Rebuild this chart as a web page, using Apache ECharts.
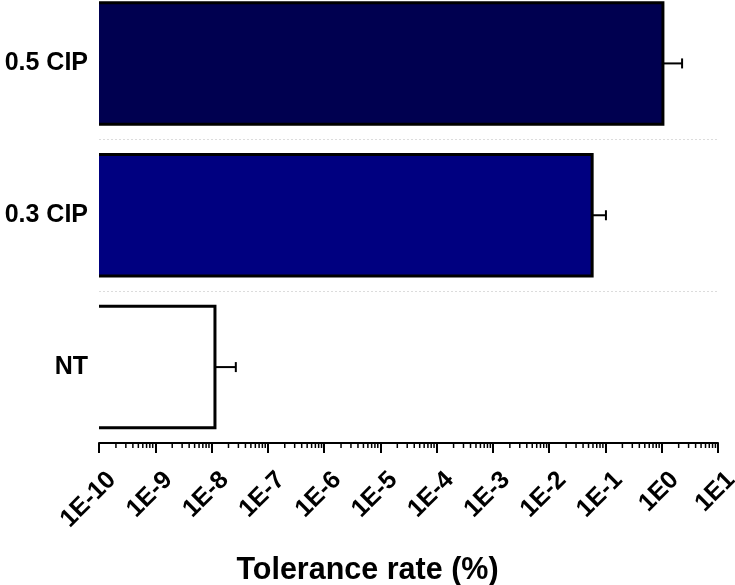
<!DOCTYPE html>
<html>
<head>
<meta charset="utf-8">
<script src="https://cdn.jsdelivr.net/npm/echarts@6/dist/echarts.min.js"></script>
<style>
html,body{margin:0;padding:0;background:#fff;}
#c{width:735px;height:585px;}
</style>
</head>
<body>
<div id="c"></div>
<script>
// Data (bottom to top)
const categories = ['NT', '0.3 CIP', '0.5 CIP'];
const means = [1.15e-8, 0.058, 1.05];
const sds = [1.55e-8, 0.044, 1.25];
const fills = ['#ffffff', '#000080', '#000050'];
// Axis
const xMin = 1e-10;
const xMax = 10;
const decadeExps = [-10, -9, -8, -7, -6, -5, -4, -3, -2, -1, 0];
const minorMults = [2, 3, 4, 5, 6, 7, 8, 9];

const FONT = "'Liberation Sans', Arial, sans-serif";
const chart = echarts.init(document.getElementById('c'), null, {renderer: 'canvas'});

const barData = categories.map((c, i) => [means[i], i, sds[i]]);

chart.setOption({
  backgroundColor: '#fff',
  animation: false,
  textStyle: {fontFamily: FONT},
  grid: {left: 99, right: 17, top: -12.5, bottom: 142, containLabel: false, outerBoundsMode: 'none'},
  xAxis: {
    type: 'log', logBase: 10, min: xMin, max: xMax, interval: 1,
    axisLine: {show: true, lineStyle: {color: '#000', width: 2}},
    axisTick: {show: true, length: 10, lineStyle: {color: '#000', width: 2}},
    splitLine: {show: false},
    axisLabel: {
      rotate: 45, margin: 20, color: '#000', fontWeight: 'bold', fontSize: 25, fontFamily: FONT,
      verticalAlign: 'top', lineHeight: 37,
      hideOverlap: false,
      formatter: v => '1E' + Math.round(Math.log10(v))
    },
    name: 'Tolerance rate (%)', nameLocation: 'middle', nameGap: 112,
    nameTextStyle: {color: '#000', fontWeight: 'bold', fontSize: 30.5, fontFamily: FONT, padding: [0, 82, 0, 0]}
  },
  yAxis: {
    type: 'category', data: categories,
    axisLine: {show: false}, axisTick: {show: false},
    splitLine: {show: true, lineStyle: {color: '#dcdcdc', type: [2, 2], width: 1}},
    axisLabel: {color: '#000', fontWeight: 'bold', fontSize: 25, margin: 11, fontFamily: FONT}
  },
  series: [
    {
      type: 'custom',
      data: barData,
      encode: {x: 0, y: 1},
      renderItem: function (params, api) {
        const v = api.value(0), cat = api.value(1), sd = api.value(2);
        const p0 = api.coord([xMin, cat]);
        const p1 = api.coord([v, cat]);
        const band = Math.abs(api.coord([v, 0])[1] - api.coord([v, 1])[1]);
        const h = band * 0.8;
        const top = p1[1] - h / 2, bot = p1[1] + h / 2;
        const pe = api.coord([v + sd, cat]);
        const fill = fills[params.dataIndex];
        return {
          type: 'group',
          children: [
            {type: 'rect', shape: {x: p0[0], y: top, width: p1[0] - p0[0], height: h},
             style: {fill: fill}},
            {type: 'polyline', shape: {points: [[p0[0], top], [p1[0], top], [p1[0], bot], [p0[0], bot]]},
             style: {stroke: '#000', lineWidth: 3, fill: null}},
            {type: 'line', shape: {x1: p1[0], y1: p1[1], x2: pe[0], y2: pe[1]},
             style: {stroke: '#000', lineWidth: 2}},
            {type: 'line', shape: {x1: pe[0], y1: pe[1] - 5, x2: pe[0], y2: pe[1] + 5},
             style: {stroke: '#000', lineWidth: 2}}
          ]
        };
      }
    },
    {
      // minor log ticks along the x axis
      type: 'custom',
      data: [[xMin, 0]],
      encode: {x: 0, y: 1},
      silent: true,
      renderItem: function (params, api) {
        const children = [];
        const cs = params.coordSys;
        const yAxisPx = cs.y + cs.height;
        decadeExps.forEach(e => {
          minorMults.forEach(m => {
            const x = api.coord([m * Math.pow(10, e), 0])[0];
            children.push({type: 'line', shape: {x1: x, y1: yAxisPx, x2: x, y2: yAxisPx + 5},
              style: {stroke: '#000', lineWidth: 1.5}});
          });
        });
        return {type: 'group', children: children};
      }
    }
  ]
});
</script>
</body>
</html>
